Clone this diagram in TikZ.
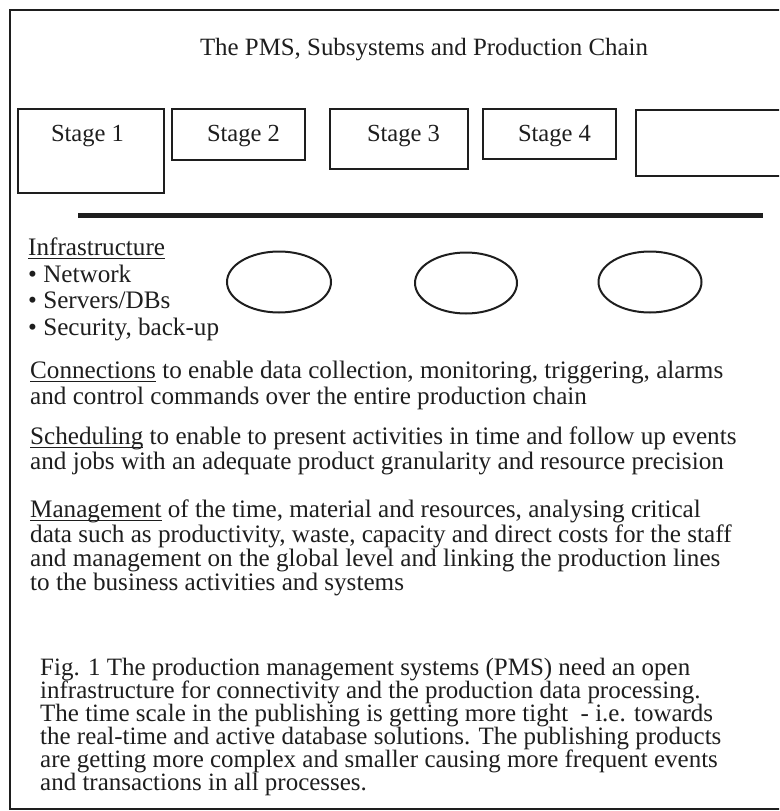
\documentclass[tikz,border=0pt]{standalone}
\usepackage{fontspec}
\setmainfont{Liberation Serif}
\usetikzlibrary{shapes.geometric}
\newcommand\ulword[1]{\leavevmode\setbox0\hbox{#1}\rlap{\rule[-3.5pt]{\wd0}{1pt}}\box0\relax}
% font size that sets a sample line to a given width
\newcommand\fitsize[3]{%
  \setbox2\hbox{\fontsize{10pt}{12pt}\selectfont #3}%
  \global#1=\dimexpr 10pt*\dimexpr#2\relax/\wd2\relax}
\newdimen\titlesize \newdimen\bodysize \newdimen\capsize \newdimen\stagesize
\definecolor{ink}{HTML}{1E1E1E}
\tikzset{
  txt/.style={anchor=base west, inner sep=0pt, text=ink, font=\fontsize{\bodysize}{26pt}\selectfont},
  titletxt/.style={anchor=base, inner sep=0pt, text=ink, font=\fontsize{\titlesize}{26pt}\selectfont},
  stagetxt/.style={anchor=base, inner sep=0pt, text=ink, font=\fontsize{\stagesize}{26pt}\selectfont},
  captxt/.style={anchor=base west, inner sep=0pt, text=ink, font=\fontsize{\capsize}{26pt}\selectfont},
  stagebox/.style={draw=ink, line width=2pt},
  slot/.style={draw=ink, line width=2pt},
}
\begin{document}
\fitsize\titlesize{448pt}{The PMS, Subsystems and Production Chain}%
\fitsize\bodysize{693pt}{Connections to enable data collection, monitoring, triggering, alarms}%
\fitsize\capsize{650pt}{Fig. 1 The production management systems (PMS) need an open}%
\fitsize\stagesize{73pt}{Stage 4}%
\begin{tikzpicture}[x=1pt,y=-1pt]
\useasboundingbox (0,0) rectangle (779,811);
\begin{scope}
\clip (0,0) rectangle (779,811);
% outer frame
\draw[ink, line width=2.2pt] (10,10) rectangle (792,809);
% title
\node[titletxt] (title) at (424,55) {The PMS, Subsystems and Production Chain};
% production chain stages
\draw[stagebox] (18,109) rectangle (164,193);
\draw[stagebox] (172,109) rectangle (305,160);
\draw[stagebox] (330,109) rectangle (468,169);
\draw[stagebox] (483,109) rectangle (616,159);
\draw[stagebox] (636,110) rectangle (790,176);
\node[stagetxt] (s1) at (87.5,141) {Stage 1};
\node[stagetxt] (s2) at (243.5,141) {Stage 2};
\node[stagetxt] (s3) at (403.5,141) {Stage 3};
\node[stagetxt] (s4) at (554.5,141) {Stage 4};
% bus line
\draw[ink, line width=5pt] (78,215) -- (763,215);
% infrastructure
\node[txt] (inf) at (28,255) {\ulword{Infrastructure}};
\node[txt] (i1) at (28,282) {\textbullet\ Network};
\node[txt] (i2) at (28,308) {\textbullet\ Servers/DBs};
\node[txt] (i3) at (28,335) {\textbullet\ Security, back-up};
\node[slot, ellipse, minimum width=104pt, minimum height=61pt, inner sep=0pt] (e1) at (279,282) {};
\node[slot, ellipse, minimum width=102pt, minimum height=61pt, inner sep=0pt] (e2) at (466,283) {};
\node[slot, ellipse, minimum width=103pt, minimum height=61pt, inner sep=0pt] (e3) at (650,282) {};
% connections
\node[txt] (c1) at (30,378) {\ulword{Connections} to enable data collection, monitoring, triggering, alarms};
\node[txt] (c2) at (30,404) {and control commands over the entire production chain};
% scheduling
\node[txt] (d1) at (30,444) {\ulword{Scheduling} to enable to present activities in time and follow up events};
\node[txt] (d2) at (30,469) {and jobs with an adequate product granularity and resource precision};
% management
\node[txt] (m1) at (30,517) {\ulword{Management} of the time, material and resources, analysing critical};
\node[txt] (m2) at (30,542) {data such as productivity, waste, capacity and direct costs for the staff};
\node[txt] (m3) at (30,566) {and management on the global level and linking the production lines};
\node[txt] (m4) at (30,590) {to the business activities and systems};
% caption
\node[captxt] (f1) at (40,675) {Fig. 1 The production management systems (PMS) need an open};
\node[captxt] (f2) at (40,698) {infrastructure for connectivity and the production data processing.};
\node[captxt] (f3) at (40,721) {The time scale in the publishing is getting more tight\ \ - i.e. towards};
\node[captxt] (f4) at (40,744) {the real-time and active database solutions. The publishing products};
\node[captxt] (f5) at (40,767) {are getting more complex and smaller causing more frequent events};
\node[captxt] (f6) at (40,790) {and transactions in all processes.};
\end{scope}
\end{tikzpicture}
\end{document}
